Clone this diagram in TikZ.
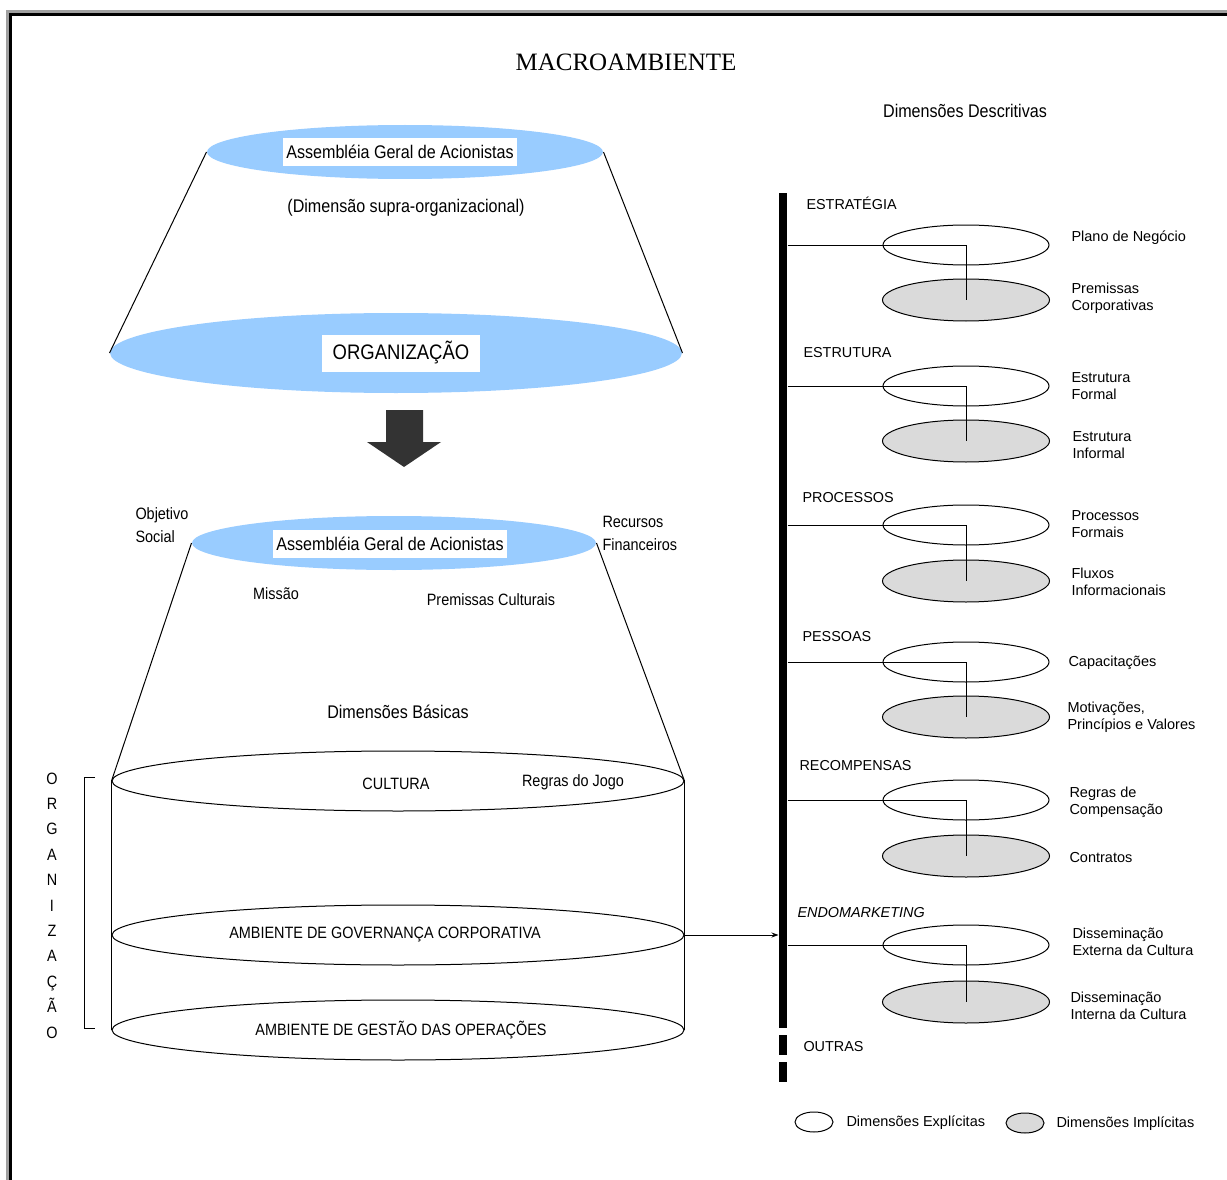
\documentclass[tikz,border=0pt]{standalone}
\usepackage{fontspec}
\setmainfont{Liberation Sans}
\newfontfamily\timesfont{Liberation Serif}
\newfontfamily\narrowfont[FakeStretch=0.88]{Liberation Sans}
\usetikzlibrary{shapes.geometric,arrows.meta}
\definecolor{skyfill}{RGB}{153,204,255}
\definecolor{implicit}{RGB}{218,218,218}
\definecolor{arrowgray}{RGB}{51,51,51}
\definecolor{framegray}{RGB}{160,160,160}
\tikzset{
  every node/.style={inner sep=0pt},
  disc/.style={ellipse, fill=skyfill, minimum width=#1, minimum height=54},
  ring/.style={ellipse, draw, fill=white, minimum width=572, minimum height=60},
  expl/.style={ellipse, draw, fill=white, minimum width=166, minimum height=40},
  impl/.style={ellipse, draw, fill=implicit, minimum width=167, minimum height=42},
  labelbox/.style={fill=white, minimum width=234, minimum height=28,
    font=\narrowfont\fontsize{18.3}{22}\selectfont},
  bigtxt/.style={font=\narrowfont\fontsize{18.3}{22}\selectfont},
  coneTxt/.style={font=\narrowfont\fontsize{16.4}{23}\selectfont, align=left},
  dimtxt/.style={font=\fontsize{14.5}{17}\selectfont, align=left, anchor=west},
  head/.style={font=\fontsize{14.4}{17}\selectfont, anchor=west},
}
\begin{document}
\begin{tikzpicture}[x=1pt,y=-1pt,line width=1pt]
\useasboundingbox (0,0) rectangle (1227,1180);
\fill[white] (0,0) rectangle (1227,1180);

% frame: top and left edges
\fill[framegray] (6,10) rectangle (1227,13);
\fill[framegray] (6,10) rectangle (9,1180);
\fill[black] (9,13) rectangle (1227,16);
\fill[black] (9,13) rectangle (12,1180);

% title
\node[font=\timesfont\fontsize{25}{28}\selectfont] (macro) at (626,62) {MACROAMBIENTE};
\node[bigtxt] (descr) at (965,111) {Dimensões Descritivas};

% upper cone: shareholders over the organization
\node[disc=396] (agaTop) at (405,152) {};
\node[ellipse, fill=skyfill, minimum width=572, minimum height=80] (orgDisc) at (396,353) {};
\draw (agaTop.west) -- (orgDisc.west);
\draw (agaTop.east) -- (orgDisc.east);
\node[labelbox] (agaTopTxt) at (400,152) {Assembléia Geral de Acionistas};
\node[bigtxt] (supra) at (406,208) {(Dimensão supra-organizacional)};
\node[fill=white, minimum width=158, minimum height=37,
      font=\narrowfont\fontsize{21}{24}\selectfont] (orgTxt) at (401,353) {ORGANIZAÇÃO};

% block arrow
\fill[arrowgray] (386,410) -- (423,410) -- (423,442) -- (441,442) -- (404,467)
  -- (367,442) -- (386,442) -- cycle;

% lower cone
\node[disc=404] (agaLow) at (394,543) {};
\node[labelbox] (agaLowTxt) at (390,544) {Assembléia Geral de Acionistas};
\node[coneTxt, anchor=west] (objetivo) at (135,525) {Objetivo\\Social};
\node[coneTxt, anchor=west] (recursos) at (602,533) {Recursos\\Financeiros};
\node[coneTxt] (missao) at (276,594) {Missão};
\node[coneTxt] (premCult) at (491,600) {Premissas Culturais};
\node[bigtxt] (basicas) at (398,712) {Dimensões Básicas};

% cylinder of the organization
\node[ring] (cTop) at (398,781) {};
\node[ring] (cMid) at (398,935) {};
\node[ring] (cBot) at (398,1030) {};
\draw (agaLow.west) -- (cTop.west);
\draw (agaLow.east) -- (cTop.east);
\draw (cTop.west) -- (cBot.west);
\draw (cTop.east) -- (cBot.east);
\node[coneTxt] (cultura) at (396,784) {CULTURA};
\node[coneTxt] (regras) at (573,782) {Regras do Jogo};
\node[coneTxt] (govern) at (385,935) {AMBIENTE DE GOVERNANÇA CORPORATIVA};
\node[coneTxt] (gestao) at (401,1030) {AMBIENTE DE GESTÃO DAS OPERAÇÕES};

% bracket with the vertical word
\coordinate (brA) at (95,777);
\coordinate (brB) at (84,777);
\coordinate (brC) at (84,1028);
\coordinate (brD) at (95,1028);
\draw (brA) -- (brB) -- (brC) -- (brD);
\foreach \ch [count=\i from 0] in {O,R,G,A,N,I,Z,A,Ç,Ã,O}
  \node[coneTxt, anchor=base] (vl\i) at (52,{784+25.4*\i}) {\ch};

% descriptive dimensions: axis
\node[fill=black, minimum width=8, minimum height=835] (bar) at (783,610.5) {};
\node[fill=black, minimum width=8, minimum height=20] (dashA) at (783,1045) {};
\node[fill=black, minimum width=8, minimum height=20] (dashB) at (783,1072) {};
\draw[-{Stealth[length=7pt,width=5pt]}] (cMid.east) -- (bar.west |- cMid.east);

% headings
\node[head] (hEst) at (806,203) {ESTRATÉGIA};
\node[head] (hStr) at (803,353) {ESTRUTURA};
\node[head] (hPro) at (802,498) {PROCESSOS};
\node[head] (hPes) at (802,637) {PESSOAS};
\node[head] (hRec) at (799,766) {RECOMPENSAS};
\node[head, font=\itshape\fontsize{14.4}{17}\selectfont] (hEnd) at (797,913) {ENDOMARKETING};
\node[head] (hOut) at (803,1047) {OUTRAS};

% explicit / implicit pairs
\foreach \n/\w/\g in {1/245/300, 2/386/441, 3/525/581, 4/662/717, 5/800/856, 6/945/1002} {
  \node[expl] (W\n) at (966,\w) {};
  \node[impl] (G\n) at (966,\g) {};
  \draw (bar.east |- W\n.center) -| (G\n.center);
}

\node[dimtxt] (t1) at (1071,238) {Plano de Negócio};
\node[dimtxt] (t2) at (1071,298) {Premissas\\Corporativas};
\node[dimtxt] (t3) at (1071,386) {Estrutura\\Formal};
\node[dimtxt] (t4) at (1072,445) {Estrutura\\Informal};
\node[dimtxt] (t5) at (1071,524) {Processos\\Formais};
\node[dimtxt] (t6) at (1071,582) {Fluxos\\Informacionais};
\node[dimtxt] (t7) at (1068,663) {Capacitações};
\node[dimtxt] (t8) at (1067,717) {Motivações,\\Princípios e Valores};
\node[dimtxt] (t9) at (1069,802) {Regras de\\Compensação};
\node[dimtxt] (t10) at (1069,858) {Contratos};
\node[dimtxt] (t11) at (1072,942) {Disseminação\\Externa da Cultura};
\node[dimtxt] (t12) at (1070,1006) {Disseminação\\Interna da Cultura};

% legend
\node[ellipse, draw, fill=white, minimum width=38, minimum height=20] (legE) at (814,1122) {};
\node[dimtxt] (legEt) at (846,1123) {Dimensões Explícitas};
\node[ellipse, draw, fill=implicit, minimum width=38, minimum height=20] (legI) at (1025,1123) {};
\node[dimtxt] (legIt) at (1056,1124) {Dimensões Implícitas};
\end{tikzpicture}
\end{document}
